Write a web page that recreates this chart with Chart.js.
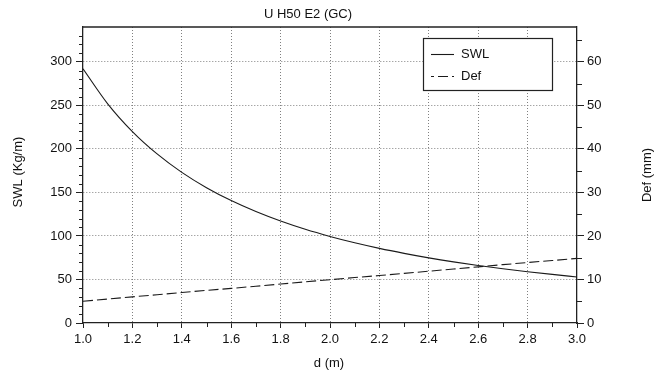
<!DOCTYPE html>
<html>
<head>
<meta charset="utf-8">
<script src="https://cdn.jsdelivr.net/npm/chart.js@4/dist/chart.umd.min.js"></script>
<style>
html,body{margin:0;padding:0;background:#fff;}
#wrap{width:662px;height:374px;}
</style>
</head>
<body>
<div id="wrap"><canvas id="c" width="662" height="374"></canvas></div>
<script>
const chartTitle = 'U H50 E2 (GC)';
const xTitle = 'd (m)';
const yLeftTitle = 'SWL (Kg/m)';
const yRightTitle = 'Def (mm)';

const dValues = [1.0,1.1,1.2,1.3,1.4,1.5,1.6,1.7,1.8,1.9,2.0,2.1,2.2,2.3,2.4,2.5,2.6,2.7,2.8,2.9,3.0];
const swlValues = [292,251.8,219.9,194.2,173.0,155.4,140.6,128.0,117.1,107.6,99.4,92.1,85.7,80.0,74.8,70.2,66.1,62.3,58.9,55.8,52.9];
const defValues = [5.0,5.5,6.0,6.5,7.0,7.5,7.95,8.45,8.95,9.45,9.95,10.45,10.9,11.4,11.9,12.4,12.9,13.4,13.9,14.35,14.85];

const xMajorTicks = [1.0,1.2,1.4,1.6,1.8,2.0,2.2,2.4,2.6,2.8,3.0];
const xMinorTicks = [1.1,1.3,1.5,1.7,1.9,2.1,2.3,2.5,2.7,2.9];
const yLeftMajorTicks = [0,50,100,150,200,250,300];
const yLeftMinorTicks = [10,20,30,40,60,70,80,90,110,120,130,140,160,170,180,190,210,220,230,240,260,270,280,290,310,320,330];
const yRightMajorTicks = [0,10,20,30,40,50,60];
const yRightMinorTicks = [5,15,25,35,45,55,65];

const FONT = 'Liberation Sans, Arial, Helvetica, sans-serif';
const AXIS = '#222';
const GRID = '#808080';

const swlPoints = dValues.map((d,i)=>({x:d, y:swlValues[i]}));
const defPoints = dValues.map((d,i)=>({x:d, y:defValues[i]}));

const decor = {
  id:'decor',
  afterDraw(chart){
    const ctx = chart.ctx;
    const a = chart.chartArea;
    const sx = chart.scales.x, sy = chart.scales.y, sy1 = chart.scales.y1;
    ctx.save();
    // top border
    ctx.strokeStyle = AXIS; ctx.lineWidth = 1.3;
    ctx.beginPath(); ctx.moveTo(a.left, a.top); ctx.lineTo(a.right, a.top); ctx.stroke();
    // minor ticks
    ctx.lineWidth = 1;
    ctx.beginPath();
    xMinorTicks.forEach(v=>{ const px = Math.round(sx.getPixelForValue(v))+0.5; ctx.moveTo(px, a.bottom); ctx.lineTo(px, a.bottom+4); });
    yLeftMinorTicks.forEach(v=>{ const py = Math.round(sy.getPixelForValue(v))+0.5; ctx.moveTo(a.left, py); ctx.lineTo(a.left-4, py); });
    yRightMinorTicks.forEach(v=>{ const py = Math.round(sy1.getPixelForValue(v))+0.5; ctx.moveTo(a.right, py); ctx.lineTo(a.right+5, py); });
    ctx.stroke();
    // titles
    ctx.fillStyle = '#111';
    ctx.font = '13px ' + FONT;
    ctx.textAlign = 'center'; ctx.textBaseline = 'middle';
    ctx.fillText(chartTitle, 308, 14);
    ctx.fillText(xTitle, 329, 363);
    ctx.save(); ctx.translate(18, 172); ctx.rotate(-Math.PI/2); ctx.fillText(yLeftTitle, 0, 0); ctx.restore();
    ctx.save(); ctx.translate(647, 175); ctx.rotate(-Math.PI/2); ctx.fillText(yRightTitle, 0, 0); ctx.restore();
    // legend
    const bx = 423.5, by = 38.5, bw = 129, bh = 52;
    ctx.fillStyle = '#fff'; ctx.fillRect(bx, by, bw, bh);
    ctx.strokeStyle = AXIS; ctx.lineWidth = 1.2; ctx.strokeRect(bx, by, bw, bh);
    const rows = [54, 76];
    chart.data.datasets.forEach((ds, i)=>{
      const y = rows[i] + 0.5;
      ctx.strokeStyle = ds.borderColor; ctx.lineWidth = ds.borderWidth;
      ctx.setLineDash(ds.borderDash || []);
      ctx.lineDashOffset = ds.borderDash ? 7 : 0;
      ctx.beginPath(); ctx.moveTo(431, y); ctx.lineTo(454, y); ctx.stroke();
      ctx.setLineDash([]);
      ctx.fillStyle = '#111'; ctx.textAlign = 'left'; ctx.textBaseline = 'middle';
      ctx.fillText(ds.label, 461, rows[i]);
    });
    ctx.restore();
  }
};

new Chart(document.getElementById('c'), {
  type:'line',
  data:{
    datasets:[
      {label:'SWL', data:swlPoints, yAxisID:'y', borderColor:'#1a1a1a', borderWidth:1.1, pointRadius:0, cubicInterpolationMode:'monotone', fill:false},
      {label:'Def', data:defPoints, yAxisID:'y1', borderColor:'#1a1a1a', borderWidth:1.1, borderDash:[10,4], pointRadius:0, fill:false}
    ]
  },
  options:{
    responsive:false,
    animation:false,
    devicePixelRatio:1,
    layout:{padding:{left:40, right:35, top:27, bottom:21}},
    plugins:{legend:{display:false}, title:{display:false}, tooltip:{enabled:false}},
    scales:{
      x:{
        type:'linear', position:'bottom', min:1, max:3,
        afterBuildTicks:s=>{ s.ticks = xMajorTicks.map(v=>({value:v})); },
        afterFit:s=>{ s.height = 30; },
        ticks:{ callback:v=>Number(v).toFixed(1), color:'#111', font:{family:FONT, size:13}, padding:4, maxRotation:0, autoSkip:false },
        grid:{ color:c=>(c.tick && c.tick.value>1.001 && c.tick.value<2.999) ? GRID : 'rgba(0,0,0,0)', lineWidth:1, tickColor:AXIS, tickLength:5, tickWidth:1 },
        border:{ display:true, color:AXIS, width:1.3, dash:[1,2] }
      },
      y:{
        type:'linear', position:'left', min:0, max:340,
        afterBuildTicks:s=>{ s.ticks = yLeftMajorTicks.map(v=>({value:v})); },
        afterFit:s=>{ s.width = 43; },
        ticks:{ callback:v=>String(v), color:'#111', font:{family:FONT, size:13}, padding:4, autoSkip:false },
        grid:{ color:c=>(c.tick && c.tick.value>0) ? GRID : 'rgba(0,0,0,0)', lineWidth:1, tickColor:AXIS, tickLength:7, tickWidth:1 },
        border:{ display:true, color:AXIS, width:1.3, dash:[1,2] }
      },
      y1:{
        type:'linear', position:'right', min:0, max:68,
        afterBuildTicks:s=>{ s.ticks = yRightMajorTicks.map(v=>({value:v})); },
        afterFit:s=>{ s.width = 50; },
        ticks:{ callback:v=>String(v), color:'#111', font:{family:FONT, size:13}, padding:3, autoSkip:false },
        grid:{ drawOnChartArea:false, tickColor:AXIS, tickLength:7, tickWidth:1 },
        border:{ display:true, color:AXIS, width:1.3 }
      }
    }
  },
  plugins:[decor]
});
</script>
</body>
</html>
